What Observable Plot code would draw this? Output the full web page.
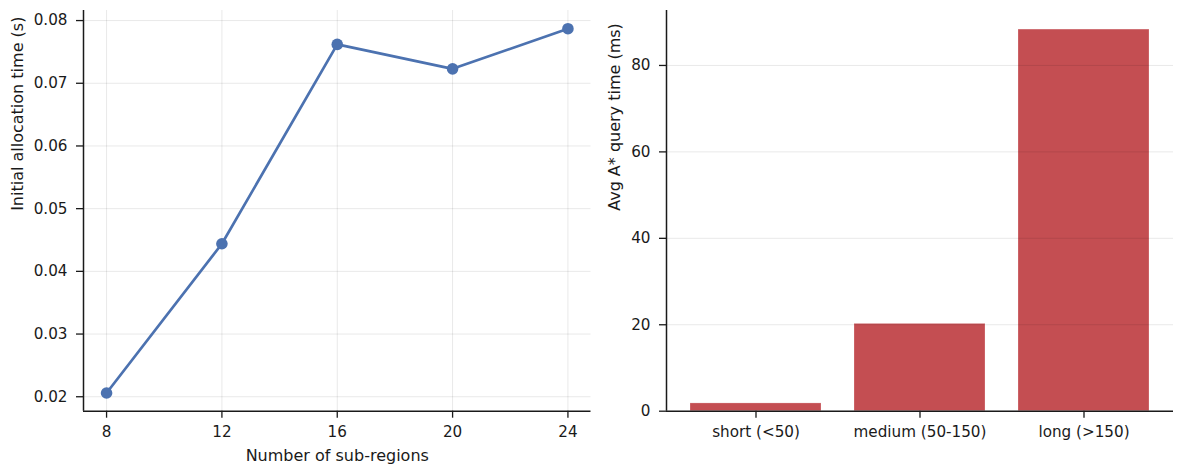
<!DOCTYPE html>
<html>
<head>
<meta charset="utf-8">
<script src="https://cdn.jsdelivr.net/npm/d3@7"></script>
<script src="https://cdn.jsdelivr.net/npm/@observablehq/plot@0.6"></script>
<style>
  html, body { margin: 0; padding: 0; background: #fff; }
  #wrap { position: relative; width: 1183px; height: 474px; overflow: hidden; }
  #wrap svg { position: absolute; top: 0; }
</style>
</head>
<body>
<div id="wrap"></div>
<script>
// ---- Data ----
const subRegions = [8, 12, 16, 20, 24];
const allocTime = [0.0206, 0.0444, 0.0762, 0.0723, 0.0787];
const leftYTicks = [0.02, 0.03, 0.04, 0.05, 0.06, 0.07, 0.08];

const categories = ["short (<50)", "medium (50-150)", "long (>150)"];
const queryTime = [1.8, 20.2, 88.3];
const rightYTicks = [0, 20, 40, 60, 80];

const leftLabelX = "Number of sub-regions";
const leftLabelY = "Initial allocation time (s)";
const rightLabelY = "Avg A* query time (ms)";

// ---- Styles ----
const blue = "#4C72B0";
const red = "#C44E52";
const ink = "#1a1a1a";
const font = "DejaVu Sans";
const tickFont = 15.2;
const labelFont = 16;

const lineData = subRegions.map((x, i) => ({x, y: allocTime[i]}));
const barData = categories.map((c, i) => ({c, v: queryTime[i]}));

function pad(lo, hi, m = 0.05) { const r = hi - lo; return [lo - m * r, hi + m * r]; }

const xDom = pad(d3.min(subRegions), d3.max(subRegions));
const yDom = pad(d3.min(allocTime), d3.max(allocTime));
const yDomR = [0, d3.max(queryTime) * 1.05];

const wrap = document.getElementById("wrap");

const left = Plot.plot({
  width: 600, height: 474,
  marginLeft: 83, marginRight: 9.5, marginTop: 10, marginBottom: 63.3,
  style: {fontFamily: font, fontSize: tickFont + "px", color: ink, background: "transparent", overflow: "visible"},
  x: {domain: xDom, label: null},
  y: {domain: yDom, label: null},
  marks: [
    Plot.gridX(subRegions, {stroke: "#000", strokeOpacity: 0.09, strokeWidth: 1}),
    Plot.gridY(leftYTicks, {stroke: "#000", strokeOpacity: 0.09, strokeWidth: 1}),
    Plot.line(lineData, {x: "x", y: "y", stroke: blue, strokeWidth: 2.7}),
    Plot.dot(lineData, {x: "x", y: "y", fill: blue, r: 5.8, stroke: "none"}),
    Plot.axisX({ticks: subRegions, tickSize: 7, tickPadding: 8, strokeWidth: 1.3, stroke: ink, fill: ink, label: null, fontSize: tickFont}),
    Plot.axisY({ticks: leftYTicks, tickFormat: d3.format(".2f"), tickSize: 7, tickPadding: 9, strokeWidth: 1.3, stroke: ink, fill: ink, label: null, fontSize: tickFont}),
    Plot.ruleX([xDom[0]], {stroke: ink, strokeWidth: 1.5}),
    Plot.ruleY([yDom[0]], {stroke: ink, strokeWidth: 1.5}),
    Plot.text([leftLabelX], {frameAnchor: "bottom", dy: 50, fontSize: labelFont, fill: ink}),
    Plot.text([leftLabelY], {frameAnchor: "left", dx: -66, rotate: -90, fontSize: labelFont, fill: ink})
  ]
});
left.style.left = "0px";
wrap.appendChild(left);

const right = Plot.plot({
  width: 583, height: 474,
  marginLeft: 66, marginRight: 10, marginTop: 10, marginBottom: 63.3,
  style: {fontFamily: font, fontSize: tickFont + "px", color: ink, background: "transparent", overflow: "visible"},
  x: {type: "band", domain: categories, paddingInner: 0.2, paddingOuter: 0.14, label: null},
  y: {domain: yDomR, label: null},
  marks: [
    Plot.barY(barData, {x: "c", y: "v", fill: red, stroke: "#fff", strokeOpacity: 0.3, strokeWidth: 0.8}),
    Plot.gridY(rightYTicks, {stroke: "#000", strokeOpacity: 0.09, strokeWidth: 1}),
    Plot.axisX({tickSize: 7, tickPadding: 8, strokeWidth: 1.3, stroke: ink, fill: ink, label: null, fontSize: tickFont}),
    Plot.axisY({ticks: rightYTicks, tickSize: 7, tickPadding: 9, strokeWidth: 1.3, stroke: ink, fill: ink, label: null, fontSize: tickFont}),
    Plot.ruleY([0], {stroke: ink, strokeWidth: 1.5}),
    Plot.text([rightLabelY], {frameAnchor: "left", dx: -52, rotate: -90, fontSize: labelFont, fill: ink})
  ]
});
right.style.left = "600px";
wrap.appendChild(right);

// left spine of right panel: frame edge
const spine = Plot.plot({
  width: 583, height: 474,
  marginLeft: 66, marginRight: 10, marginTop: 10, marginBottom: 63.3,
  style: {background: "transparent"},
  x: {domain: [0, 1], axis: null},
  y: {domain: yDomR, axis: null},
  marks: [Plot.ruleX([0], {stroke: ink, strokeWidth: 1.5})]
});
spine.style.left = "600px";
wrap.appendChild(spine);
</script>
</body>
</html>
